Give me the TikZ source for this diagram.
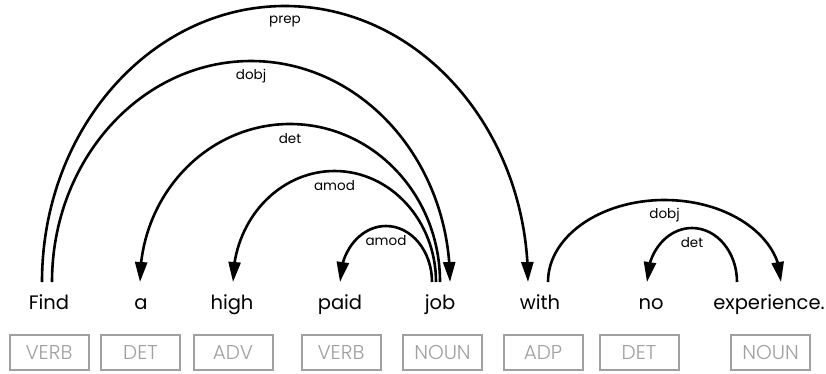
\documentclass[tikz,border=0pt]{standalone}
\usepackage{fontspec}
\setmainfont{Poppins}
\IfFontExistsTF{Poppins Light}{\newfontfamily\tagfont{Poppins Light}}{\newfontfamily\tagfont{Poppins}}
\usetikzlibrary{arrows.meta,bending}
\definecolor{taggray}{HTML}{A0A0A0}
\begin{document}
\begin{tikzpicture}[x=1pt,y=-1pt,
 word/.style={anchor=base, font=\fontsize{19.5}{19.5}\selectfont, inner sep=0pt},
 tagbox/.style={draw=taggray, line width=2pt, minimum width=79pt, minimum height=35pt, inner sep=0pt, text=taggray, font=\tagfont\fontsize{20}{20}\selectfont},
 dep/.style={line width=2.6pt, -{Triangle[length=20pt,width=12pt,flex]}},
 lab/.style={font=\fontsize{13.5}{13.5}\selectfont, yshift=-15pt}]
\useasboundingbox (0,0) rectangle (826,373);
% words
\node[word] (w1) at (49,309) {Find};
\node[word] (w2) at (141,309) {a};
\node[word] (w3) at (232,309) {high};
\node[word] (w4) at (340,309) {paid};
\node[word] (w5) at (440,309) {job};
\node[word] (w6) at (540,309) {with};
\node[word] (w7) at (651,309) {no};
\node[word] (w8) at (769,309) {experience.};
% tags
\node[tagbox] (t1) at (49,352.5) {VERB};
\node[tagbox] (t2) at (140.5,352.5) {DET};
\node[tagbox] (t3) at (233,352.5) {ADV};
\node[tagbox] (t4) at (341,352.5) {VERB};
\node[tagbox] (t5) at (442.5,352.5) {NOUN};
\node[tagbox] (t6) at (543,352.5) {ADP};
\node[tagbox] (t7) at (639,352.5) {DET};
\node[tagbox] (t8) at (770.5,352.5) {NOUN};
% arc feet
\coordinate (f1) at (42,282);
\coordinate (f2) at (52,282);
\coordinate (j1) at (432,282);
\coordinate (j2) at (436,282);
\coordinate (j3) at (440,282);
\coordinate (wi2) at (548,282);
\coordinate (e1) at (737,282);
% arcs (half ellipses from foot to foot)
\draw[dep] (f1) arc[start angle=180,end angle=0,x radius=243pt,y radius=276pt] node[lab,pos=0.5]{prep};
\draw[dep] (f2) arc[start angle=180,end angle=0,x radius=199pt,y radius=221pt] node[lab,pos=0.5]{dobj};
\draw[dep] (j3) arc[start angle=0,end angle=180,x radius=150pt,y radius=158pt] node[lab,pos=0.5]{det};
\draw[dep] (j2) arc[start angle=0,end angle=180,x radius=101.5pt,y radius=111pt] node[lab,pos=0.5]{amod};
\draw[dep] (j1) arc[start angle=0,end angle=180,x radius=46pt,y radius=56pt] node[lab,pos=0.5]{amod};
\draw[dep] (wi2) arc[start angle=180,end angle=0,x radius=116.5pt,y radius=82pt] node[lab,pos=0.5]{dobj};
\draw[dep] (e1) arc[start angle=0,end angle=180,x radius=45pt,y radius=54pt] node[lab,pos=0.5]{det};
\end{tikzpicture}
\end{document}
